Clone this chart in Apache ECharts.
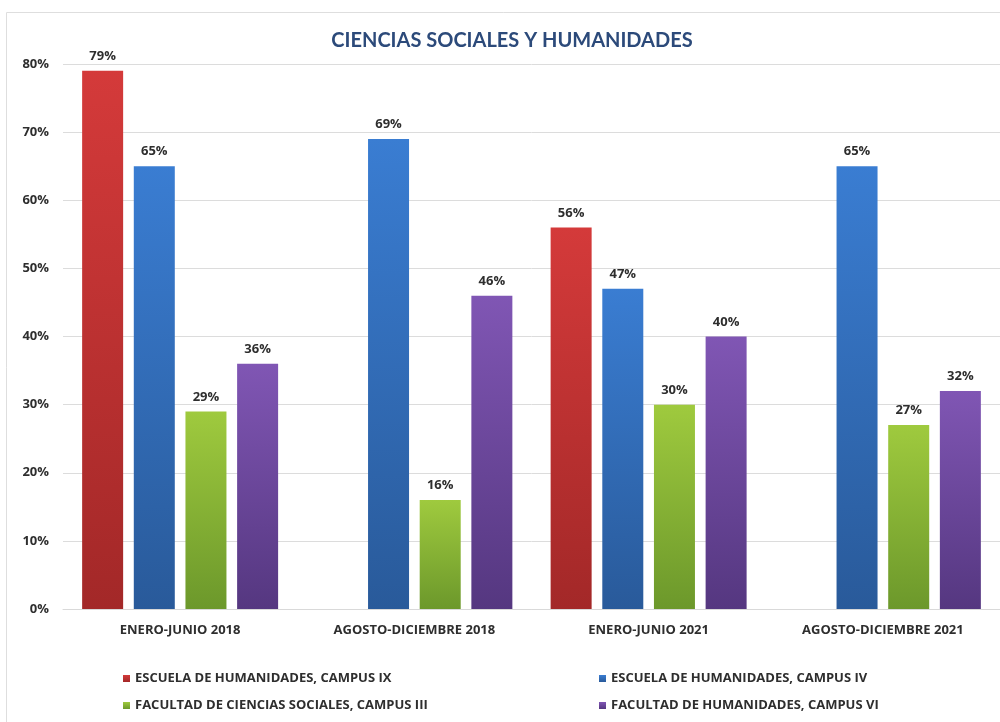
<!DOCTYPE html>
<html>
<head>
<meta charset="utf-8">
<script src="https://cdn.jsdelivr.net/npm/echarts@6/dist/echarts.min.js"></script>
<style>
  html, body { margin: 0; padding: 0; background: #ffffff; }
  #chart { width: 1000px; height: 722px; }
</style>
</head>
<body>
<div id="chart"></div>
<script>
// Periods on the x axis
const periods = ['ENERO-JUNIO 2018', 'AGOSTO-DICIEMBRE 2018', 'ENERO-JUNIO 2021', 'AGOSTO-DICIEMBRE 2021'];

// Percentage per school and period (null = no data for that period)
const humanidadesIX = [79, null, 56, null];
const humanidadesIV = [65, 69, 47, 65];
const socialesIII = [29, 16, 30, 27];
const humanidadesVI = [36, 46, 40, 32];

const seriesNames = [
  'ESCUELA DE HUMANIDADES, CAMPUS IX',
  'ESCUELA DE HUMANIDADES, CAMPUS IV',
  'FACULTAD DE CIENCIAS SOCIALES, CAMPUS III',
  'FACULTAD DE HUMANIDADES, CAMPUS VI'
];

const TITLE_FONT = 'Lato, "Open Sans", sans-serif';
const FONT = '"Open Sans", Lato, sans-serif';

function grad(top, bottom) {
  return new echarts.graphic.LinearGradient(0, 0, 0, 1, [
    { offset: 0, color: top },
    { offset: 1, color: bottom }
  ]);
}

const palette = [
  { top: '#d43a3a', bottom: '#a32828', icon: '#b8303a' },
  { top: '#3a7dd2', bottom: '#295a9a', icon: '#3470b8' },
  { top: '#9fca3e', bottom: '#6c982b', icon: '#8ab83a' },
  { top: '#8056b4', bottom: '#553780', icon: '#6a4698' }
];

const seriesData = [humanidadesIX, humanidadesIV, socialesIII, humanidadesVI];

const textStyleBase = { fontFamily: FONT, fontWeight: 'bold', fontSize: 13, color: '#2e2e2e' };

const series = seriesData.map((vals, i) => ({
  name: seriesNames[i],
  type: 'bar',
  data: vals,
  barWidth: 41,
  barGap: '26%',
  itemStyle: { color: grad(palette[i].top, palette[i].bottom) },
  label: Object.assign({
    show: true,
    position: 'top',
    distance: 8,
    formatter: p => p.value + '%'
  }, textStyleBase)
}));

const chart = echarts.init(document.getElementById('chart'));
chart.setOption({
  backgroundColor: '#ffffff',
  animation: false,
  color: palette.map(p => p.icon),
  title: {
    text: 'CIENCIAS SOCIALES Y HUMANIDADES',
    left: 507,
    textAlign: 'center',
    top: 26,
    textStyle: { fontFamily: TITLE_FONT, fontWeight: 'bold', fontSize: 20, color: '#2c4a7a' }
  },
  graphic: [{
    type: 'rect',
    shape: { x: 6.5, y: 12.5, width: 1000, height: 720 },
    style: { fill: 'none', stroke: '#dedede', lineWidth: 1 },
    silent: true
  }],
  legend: [
    {
      data: [seriesNames[0], seriesNames[2]],
      orient: 'vertical',
      left: 118,
      top: 667,
      itemWidth: 7,
      itemHeight: 7,
      itemGap: 14,
      icon: 'rect',
      textStyle: textStyleBase
    },
    {
      data: [seriesNames[1], seriesNames[3]],
      orient: 'vertical',
      left: 594,
      top: 667,
      itemWidth: 7,
      itemHeight: 7,
      itemGap: 14,
      icon: 'rect',
      textStyle: textStyleBase
    }
  ],
  grid: { left: 63, top: 64, width: 950, height: 545 },
  xAxis: {
    type: 'category',
    data: periods,
    axisTick: { show: false },
    axisLine: { lineStyle: { color: '#d9d9d9' } },
    axisLabel: Object.assign({ margin: 15 }, textStyleBase)
  },
  yAxis: {
    type: 'value',
    min: 0,
    max: 80,
    interval: 10,
    axisLine: { show: false },
    axisTick: { show: false },
    splitLine: { lineStyle: { color: '#dcdcdc' } },
    axisLabel: Object.assign({ formatter: '{value}%', margin: 14 }, textStyleBase)
  },
  series: series
});
</script>
</body>
</html>
